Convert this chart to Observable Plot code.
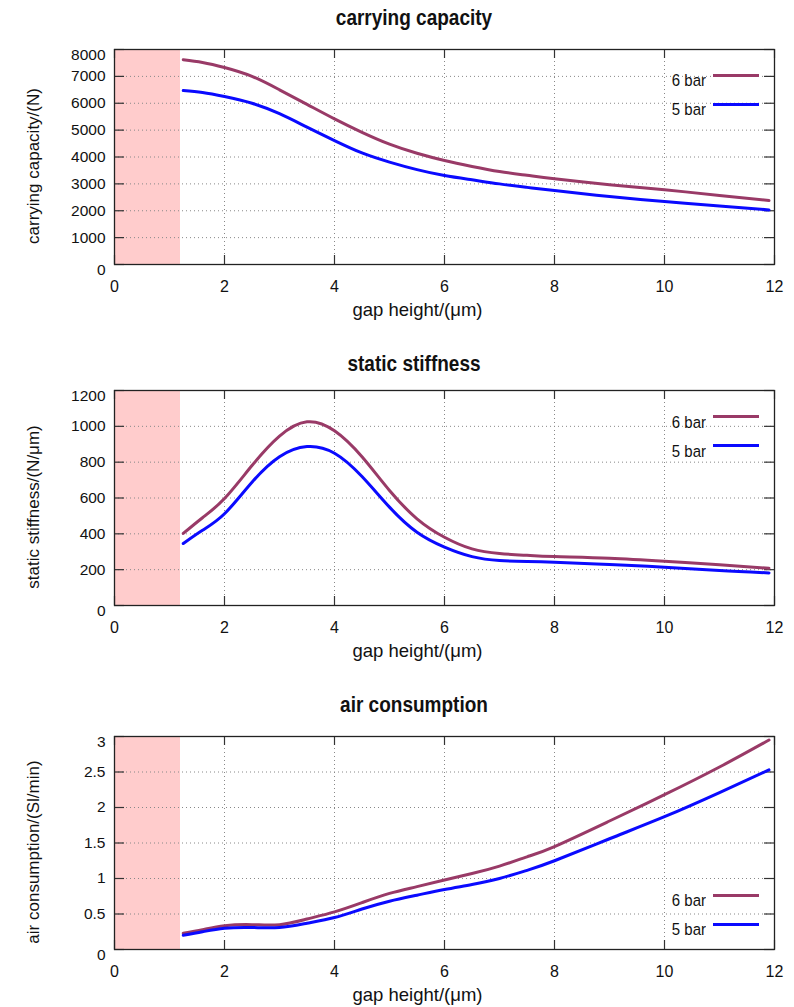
<!DOCTYPE html>
<html>
<head>
<meta charset="utf-8">
<script src="https://cdn.jsdelivr.net/npm/d3@7"></script>
<script src="https://cdn.jsdelivr.net/npm/@observablehq/plot@0.6"></script>
<style>
  body { margin: 0; background: #fff; font-family: "Liberation Sans", Arial, sans-serif; color: #111; }
  #root { position: relative; width: 794px; height: 1007px; overflow: hidden; }
  .title { position: absolute; left: 414px; transform: translateX(-50%) scaleY(1.18); white-space: nowrap;
           font-weight: bold; font-size: 19px; line-height: 22px; z-index: 2; }
  .panel { position: absolute; left: 0; }
  .leg-text { position: absolute; right: 88px; font-size: 15px; line-height: 18px; white-space: nowrap; z-index: 2;
              transform: scaleY(1.1); }
  .leg-line { position: absolute; left: 713px; width: 46px; height: 3px; z-index: 2; }
</style>
</head>
<body>
<div id="root"></div>
<script>
// ---- data ----
const gapHeight = [1.25, 1.6, 2, 2.5, 3, 3.5, 4, 4.5, 5, 5.5, 6, 6.5, 7, 7.5, 8, 9, 10, 11, 11.9];
const seriesNames = ["6 bar", "5 bar"];
const seriesColors = ["#993a67", "#0a0aff"];

const capacity6bar = [7620, 7520, 7330, 7000, 6500, 5960, 5420, 4920, 4480, 4140, 3870, 3650, 3460, 3320, 3190, 2970, 2780, 2570, 2380];
const capacity5bar = [6470, 6400, 6250, 6000, 5610, 5110, 4610, 4150, 3810, 3530, 3310, 3150, 3000, 2870, 2750, 2530, 2340, 2180, 2030];

const stiffness6bar = [402, 490, 597, 781, 945, 1025, 975, 830, 642, 484, 381, 316, 290, 280, 273, 264, 247, 227, 208];
const stiffness5bar = [346, 420, 512, 688, 830, 887, 850, 720, 549, 409, 326, 273, 251, 246, 242, 229, 214, 195, 182];

const air6bar = [0.23, 0.28, 0.335, 0.35, 0.35, 0.43, 0.53, 0.66, 0.79, 0.885, 0.98, 1.07, 1.175, 1.305, 1.45, 1.81, 2.18, 2.57, 2.95];
const air5bar = [0.20, 0.25, 0.30, 0.31, 0.31, 0.37, 0.45, 0.57, 0.68, 0.765, 0.845, 0.915, 1.00, 1.115, 1.25, 1.56, 1.87, 2.21, 2.53];

const xTicks = [0, 2, 4, 6, 8, 10, 12];
const capacityTicks = [0, 1000, 2000, 3000, 4000, 5000, 6000, 7000, 8000];
const stiffnessTicks = [0, 200, 400, 600, 800, 1000, 1200];
const airTicks = [0, 0.5, 1, 1.5, 2, 2.5, 3];
const shadedRegion = [0, 1.2];

const titles = ["carrying capacity", "static stiffness", "air consumption"];
const yLabels = ["carrying capacity/(N)", "static stiffness/(N/μm)", "air consumption/(Sl/min)"];
const xLabel = "gap height/(μm)";

// ---- layout ----
const panels = [
  {title: titles[0], yLabel: yLabels[0], series: [capacity6bar, capacity5bar], ticks: capacityTicks,
   top: 30, mt: 19, innerH: 215, mb: 60, titleY: 7, legendTop: true},
  {title: titles[1], yLabel: yLabels[1], series: [stiffness6bar, stiffness5bar], ticks: stiffnessTicks,
   top: 375, mt: 15, innerH: 215, mb: 60, titleY: 353, legendTop: true},
  {title: titles[2], yLabel: yLabels[2], series: [air6bar, air5bar], ticks: airTicks,
   top: 720, mt: 16, innerH: 213, mb: 56, titleY: 694, legendTop: false}
];

const root = document.getElementById("root");
const ML = 114, MR = 20, W = 794 - ML - MR;

function makePanel(cfg) {
  const data = [];
  cfg.series.forEach((vals, si) => vals.forEach((v, i) => data.push({x: gapHeight[i], y: v, s: seriesNames[si]})));
  const ticks = cfg.ticks;
  const mid = ticks.slice(1, -1);
  const ends = [ticks[0], ticks[ticks.length - 1]];
  const H = cfg.innerH;
  const fmt = d => String(d);
  return Plot.plot({
    width: 794,
    height: cfg.mt + H + cfg.mb,
    marginLeft: ML, marginRight: MR, marginTop: cfg.mt, marginBottom: cfg.mb,
    x: {domain: [xTicks[0], xTicks[xTicks.length - 1]]},
    y: {domain: ends},
    color: {domain: seriesNames, range: seriesColors},
    style: {fontFamily: "'Liberation Sans', Arial, sans-serif", fontSize: "15px", color: "#111", background: "transparent", overflow: "visible"},
    marks: [
      Plot.rectX([shadedRegion], {x1: d => d[0], x2: d => d[1], fill: "#ffcccc"}),
      Plot.gridX(xTicks.slice(1, -1), {stroke: "#888", strokeOpacity: 1, strokeDasharray: "1,3"}),
      Plot.gridY(mid, {stroke: "#888", strokeOpacity: 1, strokeDasharray: "1,3"}),
      Plot.tickX(xTicks, {x: d => d, insetTop: H - 9, stroke: "#333", strokeWidth: 1.2}),
      Plot.tickX(xTicks, {x: d => d, insetBottom: H - 9, stroke: "#333", strokeWidth: 1.2}),
      Plot.tickY(ticks, {y: d => d, insetRight: W - 10, stroke: "#333", strokeWidth: 1.2}),
      Plot.tickY(ticks, {y: d => d, insetLeft: W - 10, stroke: "#333", strokeWidth: 1.2}),
      Plot.line(data, {x: "x", y: "y", z: "s", stroke: "s", strokeWidth: 3, curve: "natural"}),
      Plot.frame({stroke: "#222", strokeWidth: 1.3}),
      Plot.axisX(xTicks, {anchor: "bottom", tickSize: 0, tickPadding: 16, tickFormat: fmt, label: null, fontSize: 16}),
      Plot.axisY(mid, {anchor: "left", tickSize: 0, tickPadding: 9, tickFormat: fmt, label: null, fontSize: 15.5}),
      Plot.axisY(ends, {anchor: "left", tickSize: 0, tickPadding: 9, tickFormat: fmt, label: null, fontSize: 15.5, dy: 6}),
      Plot.text([xLabel], {text: d => d, frameAnchor: "bottom", dy: 46, dx: -27, lineAnchor: "middle", textAnchor: "middle", fontSize: 18.5}),
      Plot.text([cfg.yLabel], {text: d => d, frameAnchor: "left", dx: -81, dy: 9, rotate: -90, lineAnchor: "middle", textAnchor: "middle", fontSize: 17})
    ]
  });
}

panels.forEach(cfg => {
  const t = document.createElement("div");
  t.className = "title";
  t.style.top = cfg.titleY + "px";
  t.textContent = cfg.title;
  root.appendChild(t);

  const svg = makePanel(cfg);
  const wrap = document.createElement("div");
  wrap.className = "panel";
  wrap.style.top = cfg.top + "px";
  wrap.appendChild(svg);
  root.appendChild(wrap);

  const frameTop = cfg.top + cfg.mt;
  const frameBottom = frameTop + cfg.innerH;
  const lineYs = cfg.legendTop ? [frameTop + 26.5, frameTop + 55.5] : [frameBottom - 54, frameBottom - 25];
  seriesNames.forEach((name, i) => {
    const ly = lineYs[i];
    const txt = document.createElement("div");
    txt.className = "leg-text";
    txt.style.top = (ly + 5.5 - 9) + "px";
    txt.textContent = name;
    root.appendChild(txt);
    const ln = document.createElement("div");
    ln.className = "leg-line";
    ln.style.top = (ly - 1.5) + "px";
    ln.style.background = seriesColors[i];
    root.appendChild(ln);
  });
});
</script>
</body>
</html>
